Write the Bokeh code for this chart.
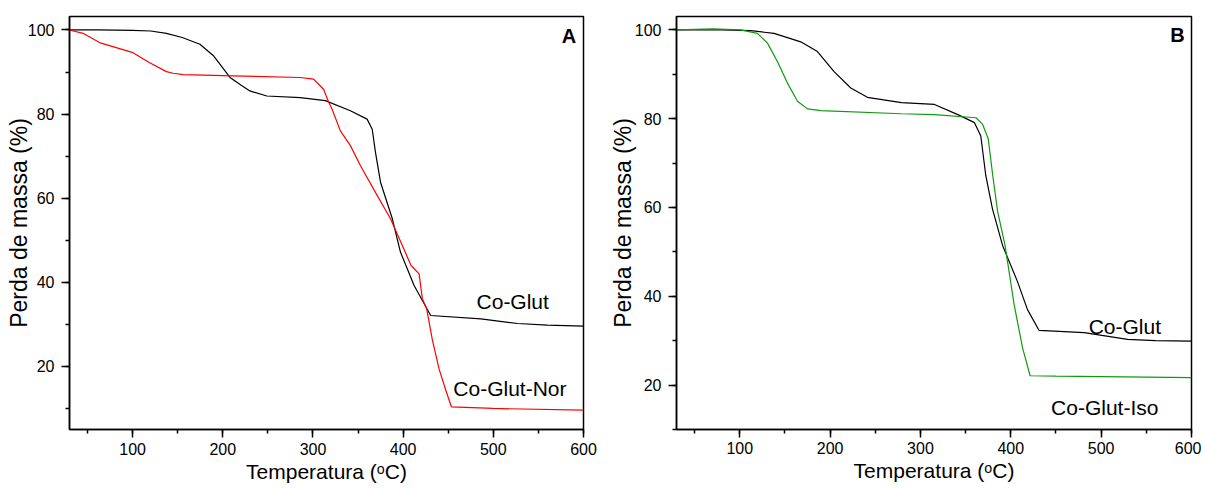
from bokeh.plotting import figure
from bokeh.layouts import row
from bokeh.models import Range1d, SingleIntervalTicker, Label
from bokeh.embed import file_html
from bokeh.resources import INLINE

FONT = "Liberation Sans"

# ---------------- Data ----------------
# Panel A
glut_A_T = [30, 60, 100, 120, 137.5, 155, 174.6, 190, 208, 220, 230, 248.8, 285.9,
            313.7, 341.5, 360, 365.7, 369.3, 374.9, 388, 397, 412, 430.5, 486.2,
            527, 560, 600]
glut_A_v = [100, 100, 99.9, 99.75, 99.2, 98.2, 96.6, 93.8, 88.7, 86.9, 85.5, 84.3, 83.9,
            83.2, 80.8, 78.8, 76.4, 70.9, 63.8, 55.1, 47.2, 39.3, 32.1, 31.3,
            30.2, 29.8, 29.6]

nor_A_T = [30, 45, 63.3, 100.4, 118.9, 137.5, 144.9, 156, 211.6, 285.9, 300.7, 306.3,
           311.8, 317.4, 321.1, 330.4, 341.5, 352.7, 371.3, 386, 400.8, 408.8, 417.7,
           421.3, 426.1, 432.4, 439.8, 447.2, 453.5, 500, 600]
nor_A_v = [100, 99.2, 97.0, 94.6, 92.2, 90.1, 89.7, 89.4, 89.1, 88.7, 88.3, 87.1,
           85.9, 82.8, 81.2, 76.0, 72.5, 67.7, 60.6, 55.1, 47.9, 44.0, 42.0,
           36.1, 33.7, 26.3, 19.4, 14.4, 10.4, 10.0, 9.6]

# Panel B
glut_B_T = [30, 80, 112.2, 138, 167.5, 186, 204.4, 222.9, 241.3, 279, 315.5, 341.4,
            359.8, 366.8, 372.3, 379.7, 390.8, 407.4, 418.5, 431.3, 481.2, 529.2, 560, 600]
glut_B_v = [100, 100, 99.8, 99.2, 97.3, 95.1, 90.6, 86.9, 84.8, 83.6, 83.2, 80.9,
            79.1, 76.1, 67.2, 59.7, 51.5, 43.3, 37.0, 32.3, 31.8, 30.3, 30.0, 29.9]

iso_B_T = [30, 70, 101, 119.6, 130.7, 141.8, 152.8, 163.9, 175, 189.7, 279, 315.5,
           361.5, 368.9, 375.1, 380, 385.5, 393.6, 403.7, 413, 421.4, 450, 600]
iso_B_v = [100, 100.2, 100.0, 99.2, 97.0, 92.8, 88.0, 83.9, 82.2, 81.8, 81.1, 80.9,
           80.2, 78.7, 75.4, 67.2, 59.0, 51.5, 38.1, 28.4, 22.1, 22.0, 21.7]

x_label = "Temperatura (\u1d52C)"
y_label = "Perda de massa (%)"


def make_panel(width, height, left, right, top, bottom, ymin, ymax,
               x_std, y_als):
    p = figure(width=width, height=height, output_backend="svg", toolbar_location=None,
               x_range=Range1d(30, 600), y_range=Range1d(ymin, ymax),
               min_border_left=left, min_border_right=right,
               min_border_top=top, min_border_bottom=bottom)
    p.xgrid.visible = False
    p.ygrid.visible = False
    p.background_fill_color = "white"
    p.border_fill_color = "white"
    p.outline_line_color = "black"
    p.outline_line_width = 1.5
    p.outline_line_alpha = 1.0

    p.xaxis.ticker = SingleIntervalTicker(interval=100, num_minor_ticks=2)
    p.yaxis.ticker = SingleIntervalTicker(interval=20, num_minor_ticks=2)
    for ax in (p.xaxis[0], p.yaxis[0]):
        ax.axis_line_color = "black"
        ax.axis_line_width = 1.5
        ax.major_tick_line_color = "black"
        ax.major_tick_line_width = 1.5
        ax.minor_tick_line_color = "black"
        ax.minor_tick_line_width = 1.5
        ax.major_tick_in = 0
        ax.major_tick_out = 8
        ax.minor_tick_in = 0
        ax.minor_tick_out = 4
        ax.major_label_text_font = FONT
        ax.major_label_text_font_size = "16px"
        ax.major_label_text_color = "black"
        ax.axis_label_text_font = FONT
        ax.axis_label_text_font_style = "normal"
        ax.axis_label_text_color = "black"
    p.xaxis.axis_label = x_label
    p.yaxis.axis_label = y_label
    p.xaxis.axis_label_text_font_size = "21px"
    p.yaxis.axis_label_text_font_size = "23px"
    p.xaxis.major_label_standoff = x_std
    p.xaxis.axis_label_standoff = 2
    p.yaxis.major_label_standoff = 7
    p.yaxis.axis_label_standoff = y_als
    return p


def add_label(p, x, y, text, size="21px", bold=False):
    p.add_layout(Label(x=x, y=y, text=text, text_align="center", text_baseline="middle",
                       text_font=FONT, text_font_size=size,
                       text_font_style="bold" if bold else "normal",
                       text_color="black"))


# Panel A
pA = make_panel(600, 487, 69, 17, 14, 58, 5, 103.2, 5, -7)
pA.line(glut_A_T, glut_A_v, line_color="black", line_width=1.2)
pA.line(nor_A_T, nor_A_v, line_color="#ff0000", line_width=1.2)
add_label(pA, 521.5, 35.5, "Co-Glut")
add_label(pA, 518.4, 14.7, "Co-Glut-Nor")
add_label(pA, 583.8, 98.6, "A", size="20px", bold=True)

# Panel B
pB = make_panel(601, 487, 76, 10, 16, 55, 10, 103, 4, -4)
pB.line(glut_B_T, glut_B_v, line_color="black", line_width=1.2)
pB.line(iso_B_T, iso_B_v, line_color="#109a10", line_width=1.2)
add_label(pB, 526.2, 33.1, "Co-Glut")
add_label(pB, 504, 15.0, "Co-Glut-Iso")
add_label(pB, 584.5, 98.8, "B", size="20px", bold=True)

layout = row(pA, pB)
open("out.html", "w").write(file_html(layout, INLINE))
